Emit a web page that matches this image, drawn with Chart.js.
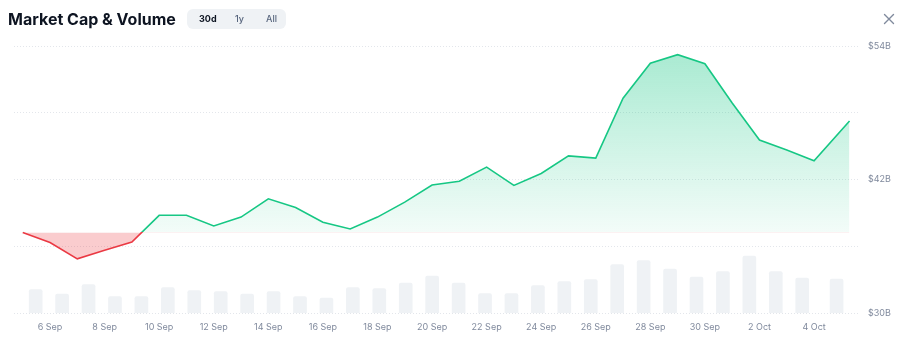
<!DOCTYPE html>
<html>
<head>
<meta charset="utf-8">
<script src="https://cdn.jsdelivr.net/npm/chart.js@4.4.0/dist/chart.umd.min.js"></script>
<style>
  html, body { margin: 0; padding: 0; background: #ffffff; width: 908px; height: 352px; overflow: hidden; font-family: Inter, "Noto Sans", sans-serif; }
  #wrap { position: relative; width: 908px; height: 352px; }
  #box { position: absolute; left: 0; top: 0; width: 908px; height: 352px; }
  .title { position: absolute; left: 8px; top: 8px; font-size: 16px; font-weight: 700; color: #0d1421; line-height: 22px; white-space: nowrap; letter-spacing: 0; }
  .tabs { position: absolute; left: 187px; top: 9px; width: 99px; height: 20px; background: #eff2f5; border-radius: 6px; }
  .tab { position: absolute; top: 0; line-height: 20px; font-size: 9px; color: #58667e; font-weight: 500; }
  .tab.on { color: #0d1421; font-weight: 700; }
  .close { position: absolute; left: 883px; top: 13px; width: 12px; height: 12px; }
</style>
</head>
<body>
<div id="wrap">
  <div id="box"><canvas id="chart"></canvas></div>
  <div class="title">Market Cap &amp; Volume</div>
  <div class="tabs">
    <span class="tab on" style="left:12px">30d</span>
    <span class="tab" style="left:48px">1y</span>
    <span class="tab" style="left:79px">All</span>
  </div>
  <svg class="close" viewBox="0 0 12 12"><path d="M1.5 1.5 L10.5 10.5 M10.5 1.5 L1.5 10.5" stroke="#808a9d" stroke-width="1.4" stroke-linecap="round"/></svg>
</div>
<script>
// Day of month (Sep = 5..30, Oct = 31..35); last point is the latest (partial-day) reading
const days = [5, 6, 7, 8, 9, 10, 11, 12, 13, 14, 15, 16, 17, 18, 19, 20, 21, 22, 23, 24, 25, 26, 27, 28, 29, 30, 31, 32, 33, 34, 35.3];
// Market cap in $B
const marketCap = [37.24, 36.34, 34.87, 35.64, 36.38, 38.78, 38.78, 37.83, 38.62, 40.26, 39.48, 38.16, 37.55, 38.62, 39.97, 41.51, 41.84, 43.11, 41.47, 42.54, 44.12, 43.92, 49.31, 52.45, 53.22, 52.41, 48.87, 45.55, 44.65, 43.69, 47.26];
// Volume in $B
const volume = [2.64, 2.13, 3.20, 1.85, 1.85, 2.87, 2.53, 2.42, 2.13, 2.42, 1.85, 1.69, 2.87, 2.75, 3.37, 4.16, 3.37, 2.19, 2.19, 3.09, 3.54, 3.76, 5.45, 5.90, 4.94, 4.04, 4.66, 6.40, 4.66, 3.93, 3.82];
const xTickValues = [6, 8, 10, 12, 14, 16, 18, 20, 22, 24, 26, 28, 30, 32, 34];
const xTickLabels = ['6 Sep', '8 Sep', '10 Sep', '12 Sep', '14 Sep', '16 Sep', '18 Sep', '20 Sep', '22 Sep', '24 Sep', '26 Sep', '28 Sep', '30 Sep', '2 Oct', '4 Oct'];
const yTickValues = [30, 36, 42, 48, 54];
const yTickLabels = ['$30B', '', '$42B', '', '$54B'];

const GREEN = '#16c784';
const RED = '#ea3943';
const baseline = marketCap[0];

Chart.defaults.font.family = 'Inter, "Noto Sans", sans-serif';

const gradientPlugin = {
  id: 'baselineGradients',
  afterLayout(chart) {
    const area = chart.chartArea;
    const y = chart.scales.y;
    const ctx = chart.ctx;
    const bp = y.getPixelForValue(baseline);
    const f = Math.min(1, Math.max(0, (bp - area.top) / (area.bottom - area.top)));
    const lg = ctx.createLinearGradient(0, area.top, 0, area.bottom);
    lg.addColorStop(0, GREEN); lg.addColorStop(f, GREEN);
    lg.addColorStop(f, RED); lg.addColorStop(1, RED);
    const ag = ctx.createLinearGradient(0, area.top, 0, bp);
    ag.addColorStop(0, 'rgba(22,199,132,0.38)');
    ag.addColorStop(1, 'rgba(22,199,132,0.05)');
    const ds = chart.data.datasets[1];
    ds.borderColor = lg;
    ds.fill = { target: { value: baseline }, above: ag, below: 'rgba(234,57,67,0.26)' };
  }
};

new Chart(document.getElementById('chart'), {
  data: {
    datasets: [
      {
        type: 'bar',
        label: 'Volume',
        data: days.map((d, i) => ({ x: d, y: volume[i] })),
        xAxisID: 'xb',
        yAxisID: 'yb',
        backgroundColor: '#eff2f5',
        borderRadius: 2,
        borderSkipped: 'bottom',
        barThickness: 13,
        grouped: false,
        order: 2
      },
      {
        type: 'line',
        label: 'Market Cap',
        data: days.map((d, i) => ({ x: d, y: marketCap[i] })),
        xAxisID: 'x',
        yAxisID: 'y',
        borderColor: GREEN,
        borderWidth: 1.6,
        pointRadius: 0,
        tension: 0,
        fill: { target: { value: baseline }, above: 'rgba(22,199,132,0.15)', below: 'rgba(234,57,67,0.26)' },
        order: 1
      }
    ]
  },
  options: {
    responsive: true,
    maintainAspectRatio: false,
    animation: false,
    events: [],
    layout: { padding: { left: 14, top: 46, right: 0, bottom: 0 } },
    plugins: { legend: { display: false }, tooltip: { enabled: false } },
    scales: {
      x: {
        type: 'linear',
        position: 'bottom',
        weight: 1,
        min: 4.68,
        max: 35.61,
        offset: false,
        grid: { display: false, drawTicks: false, offset: false },
        border: { display: false },
        afterBuildTicks: (s) => { s.ticks = xTickValues.map(v => ({ value: v })); },
        afterFit: (s) => { s.height = 39; },
        ticks: {
          autoSkip: false,
          maxRotation: 0,
          padding: 9,
          color: '#808a9d',
          font: { size: 9 },
          callback: (v) => { const i = xTickValues.indexOf(v); return i >= 0 ? xTickLabels[i] : ''; }
        }
      },
      xb: {
        type: 'linear',
        display: false,
        offset: false,
        min: 4.18,
        max: 36.11,
        grid: { offset: false }
      },
      y: {
        type: 'linear',
        position: 'right',
        min: 30,
        max: 54,
        afterBuildTicks: (s) => { s.ticks = yTickValues.map(v => ({ value: v })); },
        afterFit: (s) => { s.width = 50; },
        grid: { color: '#e3e6eb', lineWidth: 1, drawTicks: false },
        border: { display: false, dash: [1, 2] },
        ticks: {
          padding: 10,
          color: '#808a9d',
          font: { size: 9 },
          callback: (v) => { const i = yTickValues.indexOf(v); return i >= 0 ? yTickLabels[i] : ''; }
        }
      },
      yb: {
        type: 'linear',
        display: false,
        min: 0,
        max: 30
      }
    }
  },
  plugins: [gradientPlugin]
});
</script>
</body>
</html>
